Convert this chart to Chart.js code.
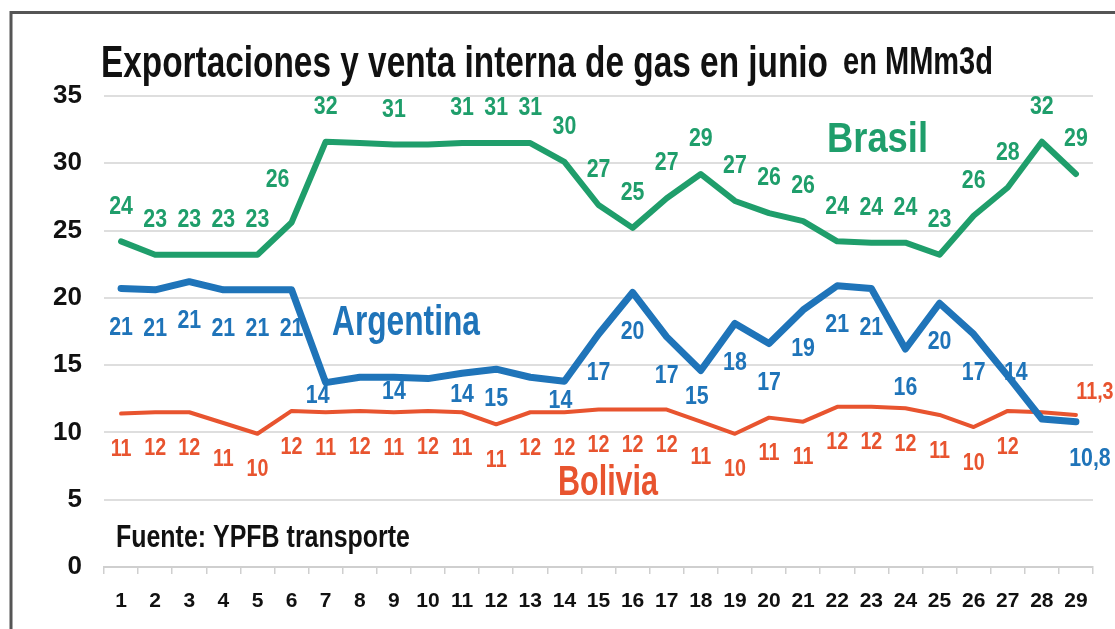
<!DOCTYPE html>
<html><head><meta charset="utf-8">
<script src="https://cdn.jsdelivr.net/npm/chart.js@4.4.1/dist/chart.umd.min.js"></script>
<style>html,body{margin:0;padding:0;background:#fff;overflow:hidden}canvas{display:block}</style>
</head><body>
<canvas id="c" width="1115" height="629"></canvas>
<script>
// ---------- DATA ----------
const days = ['1','2','3','4','5','6','7','8','9','10','11','12','13','14','15','16','17','18','19','20','21','22','23','24','25','26','27','28','29'];
const brasil    = [24.2,23.2,23.2,23.2,23.2,25.6,31.6,31.5,31.4,31.4,31.5,31.5,31.5,30.1,26.9,25.2,27.4,29.2,27.2,26.3,25.7,24.2,24.1,24.1,23.2,26.1,28.2,31.6,29.2];
const argentina = [20.7,20.6,21.2,20.6,20.6,20.6,13.7,14.1,14.1,14.0,14.4,14.7,14.1,13.8,17.3,20.4,17.1,14.6,18.1,16.6,19.1,20.9,20.7,16.2,19.6,17.3,14.2,11.0,10.8];
const bolivia   = [11.4,11.5,11.5,10.7,9.9,11.6,11.5,11.6,11.5,11.6,11.5,10.6,11.5,11.5,11.7,11.7,11.7,10.8,9.9,11.1,10.8,11.9,11.9,11.8,11.3,10.4,11.6,11.5,11.3];
const brasilLabels    = ['24','23','23','23','23','26','32',null,'31',null,'31','31','31','30','27','25','27','29','27','26','26','24','24','24','23','26','28','32','29'];
const argentinaLabels = ['21','21','21','21','21','21','14',null,'14',null,'14','15',null,'14','17','20','17','15','18','17','19','21','21','16','20','17','14',null,'10,8'];
const boliviaLabels   = ['11','12','12','11','10','12','11','12','11','12','11','11','12','12','12','12','12','11','10','11','11','12','12','12','11','10','12',null,'11,3'];
const yTicks = [0,5,10,15,20,25,30,35];
const seriesNames = ['Brasil','Argentina','Bolivia'];
const titleMain = 'Exportaciones y venta interna de gas en junio';
const titleUnit = 'en MMm3d';
const sourceNote = 'Fuente: YPFB transporte';

// ---------- STYLE ----------
const colors = ['#1f9e6b','#1f74b9','#e8542f'];
const lineWidths = [6,7,4];
const labelStyle = [
  {dy:-35, size:26, over:{5:[-14,-43]}},
  {dy:39, size:26, over:{6:[-8,13],8:[0,15],10:[0,22],11:[0,30],13:[-4,20],17:[-4,26],26:[8,-3],28:[14,37]}},
  {dy:36, size:24, over:{28:[19,-23]}}
];

// font detection
function hasFont(name){
  const c=document.createElement('canvas').getContext('2d');
  c.font='bold 40px monospace'; const a=c.measureText('Exportaciones 0123').width;
  c.font=`bold 40px "${name}", monospace`; const b=c.measureText('Exportaciones 0123').width;
  return Math.abs(a-b)>0.5;
}
const narrow = hasFont('Liberation Sans Narrow') ? 'Liberation Sans Narrow' : (hasFont('Arial Narrow') ? 'Arial Narrow' : null);
const baseFam = narrow ? `"${narrow}"` : '"Liberation Sans", Arial, sans-serif';
const squeeze = narrow ? 1 : 0.82;

function drawText(ctx, text, x, y, size, color, align, sx){
  ctx.save();
  ctx.font = `bold ${size}px ${baseFam}`;
  ctx.fillStyle = color; ctx.textBaseline = 'middle'; ctx.textAlign = 'left';
  const w = ctx.measureText(text).width * sx;
  const x0 = align === 'center' ? x - w/2 : (align === 'right' ? x - w : x);
  ctx.translate(x0, y); ctx.scale(sx, 1); ctx.fillText(text, 0, 0);
  ctx.restore();
}
function drawFit(ctx, text, x0, x1, baseY, size, color){
  ctx.save();
  ctx.font = `bold ${size}px ${baseFam}`;
  ctx.fillStyle = color; ctx.textBaseline = 'alphabetic'; ctx.textAlign = 'left';
  const w = ctx.measureText(text).width;
  ctx.translate(x0, baseY); ctx.scale((x1-x0)/w, 1); ctx.fillText(text, 0, 0);
  ctx.restore();
}

const decor = {
  id:'decor',
  beforeDraw(chart){
    const ctx = chart.ctx;
    ctx.save(); ctx.fillStyle='#fff'; ctx.fillRect(0,0,chart.width,chart.height); ctx.restore();
  },
  afterDatasetsDraw(chart){
    const ctx = chart.ctx;
    const lbls = [brasilLabels, argentinaLabels, boliviaLabels];
    lbls.forEach((arr, di) => {
      const meta = chart.getDatasetMeta(di);
      const st = labelStyle[di];
      arr.forEach((t, i) => {
        if (t == null) return;
        const p = meta.data[i];
        const o = st.over[i] || [0, st.dy];
        drawText(ctx, t, p.x + o[0], p.y + o[1], st.size, colors[di], 'center', squeeze);
      });
    });
    // series names
    drawFit(ctx, seriesNames[0], 827, 928, 152, 42, colors[0]);
    drawFit(ctx, seriesNames[1], 332, 480, 335, 42, colors[1]);
    drawFit(ctx, seriesNames[2], 558, 658, 495, 42, colors[2]);
    // title
    drawFit(ctx, titleMain, 101, 828, 77, 45, '#111');
    drawFit(ctx, titleUnit, 843, 993, 74, 38, '#111');
    // source
    drawFit(ctx, sourceNote, 116, 410, 547, 31, '#111');
    // frame
    ctx.save(); ctx.strokeStyle='#555'; ctx.lineWidth=3;
    ctx.beginPath(); ctx.moveTo(11,629); ctx.lineTo(11,12.5); ctx.lineTo(1115,12.5); ctx.stroke();
    ctx.restore();
  }
};

const mk = (label, data, i) => ({
  label, data, borderColor: colors[i], backgroundColor: colors[i],
  borderWidth: lineWidths[i], pointRadius: 0, tension: 0, fill: false,
  borderJoinStyle: 'round', borderCapStyle: 'round'
});

new Chart(document.getElementById('c'), {
  type: 'line',
  data: { labels: days, datasets: [mk(seriesNames[0], brasil, 0), mk(seriesNames[1], argentina, 1), mk(seriesNames[2], bolivia, 2)] },
  options: {
    responsive: false, animation: false, devicePixelRatio: 1,
    layout: { padding: { top: 96, right: 22, bottom: 0, left: 0 } },
    plugins: { legend: { display: false }, tooltip: { enabled: false }, title: { display: false } },
    scales: {
      x: {
        offset: true,
        grid: { display: true, drawOnChartArea: false, drawTicks: true, tickLength: 7, color: '#cfcfcf', lineWidth: 1.5, offset: true },
        border: { display: true, color: '#cfcfcf', width: 2 },
        ticks: { color: '#111', padding: 15, maxRotation: 0, autoSkip: false,
                 font: { family: narrow ? narrow : 'Liberation Sans', size: narrow ? 24 : 21, weight: 'bold' } },
        afterFit: s => { s.height = 62; }
      },
      y: {
        min: 0, max: 35,
        afterBuildTicks: s => { s.ticks = yTicks.map(v => ({ value: v })); },
        grid: { color: '#dedede', lineWidth: 2, drawTicks: false },
        border: { display: false },
        ticks: { color: '#111', padding: 22,
                 font: { family: narrow ? narrow : 'Liberation Sans', size: narrow ? 30 : 26, weight: 'bold' } },
        afterFit: s => { s.width = 104; }
      }
    }
  },
  plugins: [decor]
});
</script>
</body></html>
